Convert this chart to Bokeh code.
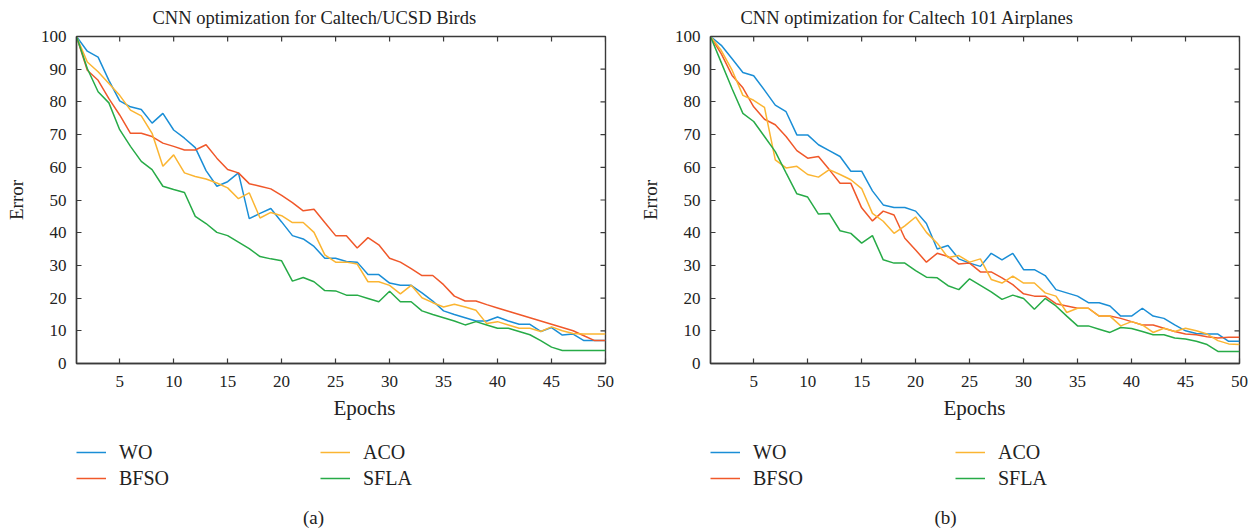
import math
from bokeh.plotting import figure
from bokeh.layouts import row, column
from bokeh.models import FixedTicker, Range1d, Legend, LegendItem, Title, Label
from bokeh.embed import file_html
from bokeh.resources import INLINE

epochs = list(range(1, 51))

wo_a = [100, 95.5, 93.7, 86.6, 80.3, 78.5, 77.7, 73.5, 76.5, 71.4, 68.9, 66, 59, 54.2, 55.6, 58.3, 44.3, 45.9, 47.4, 43.3,
        39.1, 38.1, 35.8, 32.2, 32.2, 31.2, 31, 27.2, 27.2, 24.6, 23.9, 23.9, 21.6, 19.1, 16.1, 15, 14, 13, 13, 14.2,
        13, 12, 12, 9.8, 11, 8.7, 9, 7, 7, 7]
bfso_a = [100, 89.7, 86.6, 81, 76, 70.4, 70.4, 69.4, 67.4, 66.4, 65.3, 65.3, 66.9, 62.8, 59.3, 58.3, 55, 54.2, 53.4, 51.4,
          49.2, 46.7, 47.2, 43.1, 39.1, 39.1, 35.3, 38.5, 36.3, 32.2, 31, 29, 26.9, 26.9, 24.1, 20.6, 19.1, 19.1, 18, 17,
          16, 15, 14, 13, 12, 11, 10, 8.5, 7, 7]
aco_a = [100, 92.2, 89.2, 85.6, 82, 77.5, 75.7, 70.4, 60.3, 63.8, 58.3, 57.2, 56.4, 55.2, 53.7, 50.4, 52.2, 44.5, 46.2, 45.2,
         43.1, 43.1, 40.1, 33.2, 31, 31, 30.4, 25, 25, 23.9, 21.3, 23.9, 20.1, 18.6, 17.3, 18.1, 17.3, 16.3, 12.2, 12.8,
         11.8, 10.8, 10.8, 9.8, 11.2, 10, 9.2, 9, 9, 9]
sfla_a = [100, 90.2, 83.1, 79.7, 71.5, 66.4, 61.8, 59.3, 54.2, 53.2, 52.3, 45, 42.8, 40.1, 39.1, 37.1, 35.1, 32.7, 32, 31.4,
          25.2, 26.3, 25, 22.3, 22.2, 20.9, 20.9, 19.9, 18.9, 22.1, 18.9, 18.9, 16.1, 15, 14, 13, 11.8, 12.8, 11.8, 10.8,
          10.8, 9.8, 8.8, 7, 5, 4, 4, 4, 4, 4]

wo_b = [100, 97.3, 93.2, 89, 88, 83.6, 79, 77, 69.9, 69.9, 66.9, 65.1, 63.3, 58.8, 58.8, 52.8, 48.5, 47.7, 47.7, 46.6,
        42.8, 35, 36.1, 32, 30.7, 29.7, 33.7, 31.7, 33.7, 28.7, 28.7, 26.9, 22.6, 21.6, 20.6, 18.6, 18.6, 17.6, 14.5, 14.5,
        16.9, 14.5, 13.8, 11.8, 10, 9.2, 9, 9, 6.8, 6.8]
bfso_b = [100, 94.7, 88.1, 84.3, 78.5, 74.7, 73, 69.4, 65.1, 62.8, 63.3, 59.3, 55.1, 55.1, 47.6, 43.6, 46.6, 45.4, 38.3, 34.7,
          31, 33.7, 32.7, 30.4, 30.7, 28, 28, 26.2, 24.1, 21.3, 20.6, 20.6, 18.3, 17.6, 16.9, 16.9, 14.5, 14.5, 13.8, 12.8,
          11.8, 11.8, 10.8, 9.8, 9, 8.8, 8.2, 7.8, 8, 8]
aco_b = [100, 95.7, 89.7, 82, 80.5, 78.3, 62.3, 59.8, 60.3, 57.8, 57, 59.3, 57.8, 56.2, 53.5, 45.9, 43.5, 39.8, 42.1, 44.8,
         40.1, 36.8, 32.4, 33, 31, 32, 25.7, 24.6, 26.7, 24.6, 24.6, 21.6, 20.6, 15.6, 16.9, 16.9, 14.5, 14.5, 11.5, 12.8,
         11.8, 9.5, 10.8, 9.8, 10.8, 10, 9, 7, 6, 5.8]
sfla_b = [100, 92, 84, 76.5, 74, 69.4, 64.8, 58.3, 51.9, 50.9, 45.7, 45.9, 40.6, 39.8, 36.8, 39.1, 31.7, 30.7, 30.7, 28.4,
          26.4, 26.2, 23.8, 22.6, 25.9, 23.9, 21.9, 19.6, 20.9, 19.9, 16.6, 19.9, 17.6, 14.5, 11.5, 11.5, 10.5, 9.5, 11, 10.7,
          9.8, 8.8, 8.8, 7.8, 7.5, 6.8, 5.8, 3.7, 3.7, 3.7]

series_names = ["WO", "BFSO", "ACO", "SFLA"]
colors = ["#1a8ed6", "#f0582a", "#fbb532", "#27ab47"]
x_ticks = [5, 10, 15, 20, 25, 30, 35, 40, 45, 50]
y_ticks = [0, 10, 20, 30, 40, 50, 60, 70, 80, 90, 100]
x_min, x_max, y_min, y_max = 1, 50, 0, 100

FONT = "Liberation Serif"
AXC = "#3a3a3a"
TXT = "#222222"


def style_axis(ax):
    ax.axis_line_color = AXC
    ax.axis_line_width = 1.4
    ax.major_tick_line_color = AXC
    ax.major_tick_line_width = 1.2
    ax.major_tick_in = 5
    ax.major_tick_out = 0
    ax.minor_tick_line_color = None
    ax.major_label_text_font = FONT
    ax.major_label_text_font_size = "17px"
    ax.major_label_text_color = TXT
    ax.axis_label_text_font = FONT
    ax.axis_label_text_font_size = "19px"
    ax.axis_label_text_font_style = "normal"
    ax.axis_label_text_color = TXT


def make_chart(title, data, width, border_right, title_off, xlabel_off):
    p = figure(width=width, height=428,
               x_range=Range1d(x_min, x_max), y_range=Range1d(y_min, y_max),
               output_backend="svg", toolbar_location=None,
               min_border_left=76, min_border_right=border_right,
               min_border_top=33, min_border_bottom=65)
    p.title.text = title
    p.title.align = "left"
    p.title.offset = title_off
    p.title.vertical_align = "top"
    p.title.text_font = FONT
    p.title.text_font_size = "18.5px"
    p.title.text_font_style = "normal"
    p.title.text_color = TXT
    p.title.standoff = 14
    p.grid.visible = False
    p.outline_line_color = AXC
    p.outline_line_width = 1.4

    p.xaxis.ticker = FixedTicker(ticks=x_ticks)
    p.yaxis.ticker = FixedTicker(ticks=y_ticks)
    p.yaxis.axis_label = "Error"
    p.xaxis.major_label_standoff = 12
    p.yaxis.major_label_standoff = 10
    p.yaxis.axis_label_standoff = 11
    style_axis(p.xaxis[0])
    style_axis(p.yaxis[0])

    # inward ticks on the top and right edges of the box
    p.scatter(x_ticks, [y_max] * len(x_ticks), marker="dash", angle=math.pi / 2, size=10,
              line_color=AXC, line_width=1.2)
    p.scatter([x_max] * len(y_ticks), y_ticks, marker="dash", size=10,
              line_color=AXC, line_width=1.2)

    for vals, c in zip(data, colors):
        p.line(epochs, vals, line_color=c, line_width=1.5)

    p.add_layout(Title(text="Epochs", align="left", offset=xlabel_off, text_font=FONT,
                       text_font_size="21px", text_font_style="normal", text_color=TXT,
                       standoff=8), "below")
    return p


def make_legend(data, caption, width, border_right, col2_x, caption_x):
    # legend strip below the chart; proxy lines lie outside the visible range
    q = figure(width=width, height=100, x_range=Range1d(-20, -10), y_range=Range1d(-20, -10),
               output_backend="svg", toolbar_location=None,
               x_axis_type=None, y_axis_type=None,
               min_border_left=76, min_border_right=border_right,
               min_border_top=0, min_border_bottom=0)
    q.grid.visible = False
    q.outline_line_color = None
    rs = [q.line(epochs, vals, line_color=c, line_width=1.5) for vals, c in zip(data, colors)]
    items = [LegendItem(label=n, renderers=[r]) for n, r in zip(series_names, rs)]
    for its, lx in (([items[0], items[1]], 0), ([items[2], items[3]], col2_x)):
        leg = Legend(items=its, orientation="vertical", location=(lx, 37),
                     glyph_width=30, glyph_height=26, label_standoff=13,
                     label_height=26, spacing=0, padding=0, margin=0,
                     label_text_font=FONT, label_text_font_size="20px",
                     label_text_color=TXT, border_line_color=None,
                     background_fill_alpha=0)
        q.add_layout(leg, "center")
    q.add_layout(Label(x=caption_x, y=11, x_units="screen", y_units="screen", text=caption,
                       text_align="center", text_baseline="middle", text_font=FONT,
                       text_font_size="19px", text_color=TXT))
    return q


data_a = [wo_a, bfso_a, aco_a, sfla_a]
data_b = [wo_b, bfso_b, aco_b, sfla_b]

p1 = make_chart("CNN optimization for Caltech/UCSD Birds", data_a, 634, 29, 76, 257)
p2 = make_chart("CNN optimization for Caltech 101 Airplanes", data_b, 620, 15, 30, 233)
l1 = make_legend(data_a, "(a)", 634, 29, 244, 237)
l2 = make_legend(data_b, "(b)", 620, 15, 245, 235)

layout = row(column(p1, l1), column(p2, l2))
open("out.html", "w").write(file_html(layout, INLINE))
